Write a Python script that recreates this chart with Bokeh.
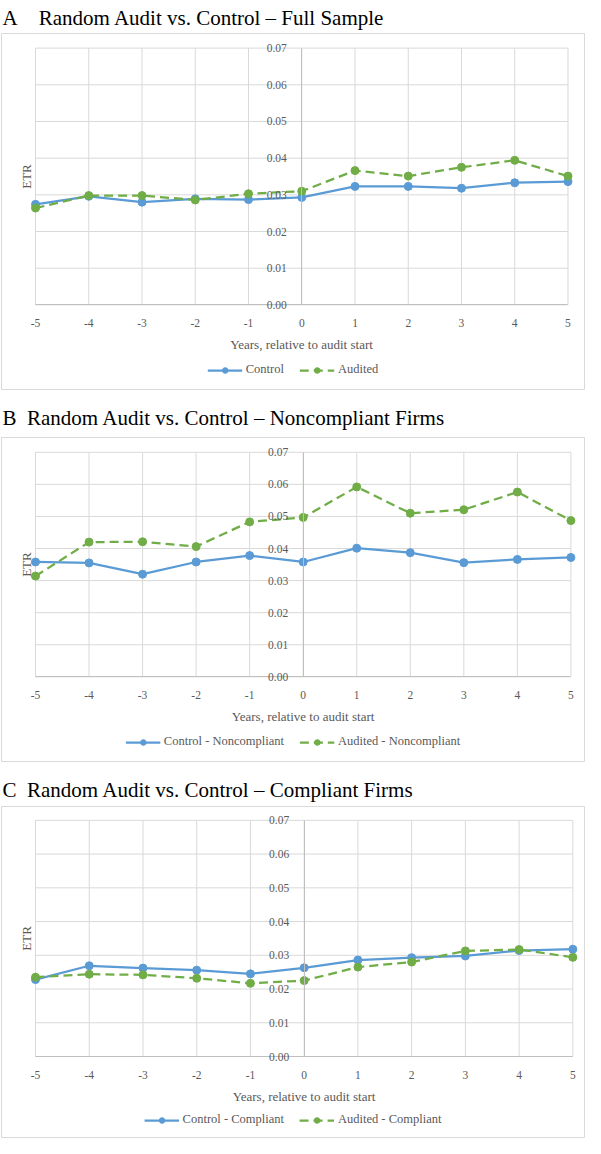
import math
from bokeh.plotting import figure
from bokeh.layouts import column
from bokeh.models import (LinearAxis, FixedTicker, NumeralTickFormatter, Legend,
                          LegendItem, Label, Title, Range1d, ColumnDataSource)
from bokeh.embed import file_html
from bokeh.resources import INLINE

# ---------------- data ----------------
years = [-5, -4, -3, -2, -1, 0, 1, 2, 3, 4, 5]
year_labels = ["-5", "-4", "-3", "-2", "-1", "0", "1", "2", "3", "4", "5"]
etr_ticks = [0.00, 0.01, 0.02, 0.03, 0.04, 0.05, 0.06, 0.07]

full_control = [0.0274, 0.0296, 0.0280, 0.0289, 0.0287, 0.0293, 0.0323, 0.0323, 0.0318, 0.0333, 0.0336]
full_audited = [0.0264, 0.0298, 0.0298, 0.0286, 0.0303, 0.0310, 0.0366, 0.0351, 0.0375, 0.0394, 0.0351]

nonc_control = [0.0358, 0.0355, 0.0320, 0.0358, 0.0378, 0.0358, 0.0401, 0.0387, 0.0356, 0.0366, 0.0372]
nonc_audited = [0.0314, 0.0420, 0.0421, 0.0406, 0.0483, 0.0497, 0.0592, 0.0510, 0.0521, 0.0576, 0.0487]

comp_control = [0.0228, 0.0269, 0.0262, 0.0256, 0.0245, 0.0263, 0.0286, 0.0293, 0.0298, 0.0314, 0.0318]
comp_audited = [0.0235, 0.0244, 0.0242, 0.0232, 0.0217, 0.0225, 0.0265, 0.0280, 0.0313, 0.0317, 0.0294]

NB = "\u00a0"
titles = ["A" + NB * 3 + " Random Audit vs. Control \u2013 Full Sample",
          "B" + NB + " Random Audit vs. Control \u2013 Noncompliant Firms",
          "C" + NB + " Random Audit vs. Control \u2013 Compliant Firms"]
legend_labels = [("Control", "Audited"),
                 ("Control - Noncompliant", "Audited - Noncompliant"),
                 ("Control - Compliant", "Audited - Compliant")]
x_title = "Years, relative to audit start"
y_title = "ETR"

BLUE = "#5B9BD5"
GREEN = "#70AD47"
GRID = "#D9D9D9"
AXIS = "#BFBFBF"
TXT = "#595959"
SERIF = "Liberation Serif"

W = 585


def panel(title, control, audited, labels, height, top, standoff,
          xr, yr, legend_margin):
    p = figure(width=W, height=height, output_backend="svg", toolbar_location=None,
               x_axis_location=None, y_axis_location=None,
               x_range=Range1d(*xr), y_range=Range1d(*yr),
               min_border_left=1, min_border_right=1,
               min_border_top=top, min_border_bottom=1)
    p.grid.visible = False
    p.outline_line_color = GRID
    p.outline_line_width = 1
    p.background_fill_color = "white"
    p.border_fill_color = "white"

    t = Title(text=title, align="left", text_font=SERIF, text_font_size="21px",
              text_font_style="normal", text_color="black", standoff=standoff, offset=1)
    p.add_layout(t, "above")

    # grid lines built from the tick arrays
    p.segment(x0=years, y0=[etr_ticks[0]] * len(years), x1=years,
              y1=[etr_ticks[-1]] * len(years), line_color=GRID, line_width=1)
    p.segment(x0=[years[0]] * len(etr_ticks), y0=etr_ticks,
              x1=[years[-1]] * len(etr_ticks), y1=etr_ticks, line_color=GRID, line_width=1)

    xa = LinearAxis(fixed_location=0, bounds=(years[0], years[-1]),
                    ticker=FixedTicker(ticks=years))
    xa.major_label_overrides = {y: s for y, s in zip(years, year_labels)}
    xa.axis_line_color = AXIS
    xa.major_tick_line_color = None
    xa.minor_tick_line_color = None
    xa.major_label_text_font = SERIF
    xa.major_label_text_font_size = "11.5px"
    xa.major_label_text_color = TXT
    xa.major_label_standoff = 8
    xa.axis_label = x_title
    xa.axis_label_text_font = SERIF
    xa.axis_label_text_font_size = "13px"
    xa.axis_label_text_font_style = "normal"
    xa.axis_label_text_color = TXT
    xa.axis_label_standoff = 7
    p.add_layout(xa, "below")

    ya = LinearAxis(fixed_location=0, bounds=(etr_ticks[0], etr_ticks[-1]),
                    ticker=FixedTicker(ticks=etr_ticks),
                    formatter=NumeralTickFormatter(format="0.00"))
    ya.axis_line_color = AXIS
    ya.major_tick_line_color = None
    ya.minor_tick_line_color = None
    ya.major_label_text_font = SERIF
    ya.major_label_text_font_size = "11.5px"
    ya.major_label_text_color = TXT
    ya.major_label_standoff = 9
    p.add_layout(ya, "left")

    p.add_layout(Label(x=years[0], y=0.035, x_offset=-9, text=y_title, angle=math.pi / 2,
                       text_align="center", text_baseline="middle", text_font=SERIF,
                       text_font_size="13px", text_color=TXT))

    src_c = ColumnDataSource(dict(x=years, y=control))
    src_a = ColumnDataSource(dict(x=years, y=audited))
    lc = p.line("x", "y", source=src_c, line_color=BLUE, line_width=2.25)
    sc = p.scatter("x", "y", source=src_c, size=8, fill_color=BLUE, line_color=BLUE)
    la = p.line("x", "y", source=src_a, line_color=GREEN, line_width=2.25, line_dash="9 5")
    sa = p.scatter("x", "y", source=src_a, size=8, fill_color=GREEN, line_color=GREEN)

    leg = Legend(items=[LegendItem(label=labels[0], renderers=[lc, sc]),
                        LegendItem(label=labels[1], renderers=[la, sa])],
                 orientation="horizontal", location="bottom_center",
                 margin=legend_margin, padding=0, spacing=15,
                 glyph_width=35, glyph_height=14, label_height=14, label_standoff=4,
                 label_text_font=SERIF, label_text_font_size="12.5px", label_text_color=TXT,
                 border_line_color=None, background_fill_alpha=0)
    p.add_layout(leg, "center")
    return p


pa = panel(titles[0], full_control, full_audited, legend_labels[0],
           height=390, top=30, standoff=7,
           xr=(-5.639, 5.310), yr=(-0.02307, 0.07398), legend_margin=12)
pb = panel(titles[1], nonc_control, nonc_audited, legend_labels[1],
           height=372, top=47, standoff=15,
           xr=(-5.635, 5.254), yr=(-0.02640, 0.07461), legend_margin=12)
pc = panel(titles[2], comp_control, comp_audited, legend_labels[2],
           height=376, top=44, standoff=10,
           xr=(-5.633, 5.217), yr=(-0.02400, 0.07410), legend_margin=10)

layout = column(pa, pb, pc, spacing=0)
open("out.html", "w").write(file_html(layout, INLINE))
